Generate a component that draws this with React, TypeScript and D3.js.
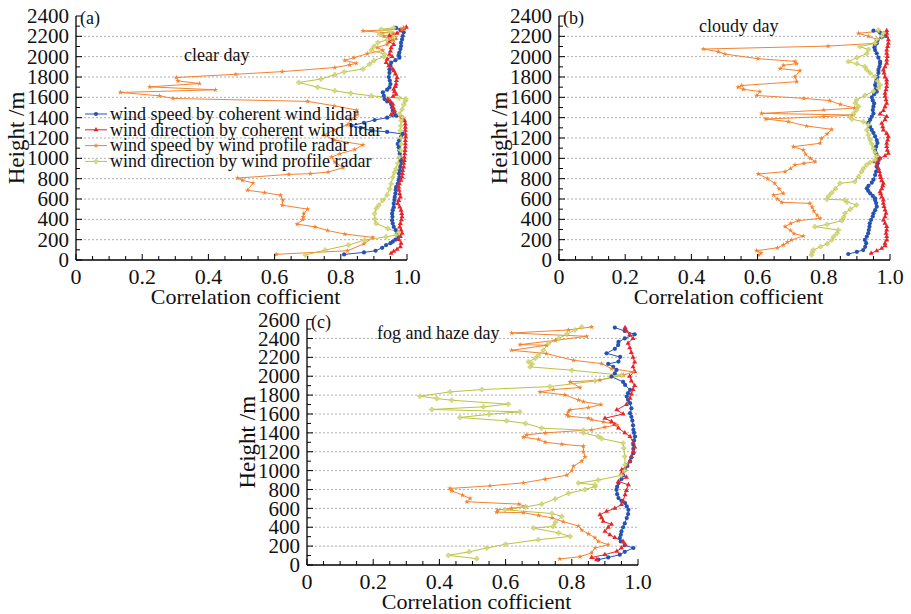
import React from "react";
import * as d3 from "d3";

// each point: [height (m), correlation coefficient]

// (a) clear day
const clearLidarSpeed: [number, number][] = [
  [55, 0.81], [75, 0.87], [91, 0.905], [120, 0.925], [147, 0.937], [165, 0.95], [180, 0.957], [200, 0.965],
  [228, 0.972], [260, 0.97], [294, 0.966], [325, 0.96], [359, 0.957], [390, 0.955], [425, 0.956], [457, 0.955],
  [490, 0.957], [520, 0.96], [555, 0.96], [590, 0.962], [620, 0.963], [655, 0.965], [690, 0.966], [718, 0.967],
  [750, 0.972], [785, 0.975], [816, 0.977], [850, 0.976], [880, 0.978], [915, 0.98], [950, 0.981], [979, 0.982],
  [1010, 0.98], [1045, 0.978], [1077, 0.977], [1110, 0.975], [1142, 0.972], [1175, 0.976], [1210, 0.982],
  [1240, 0.987], [1260, 0.94], [1273, 0.892], [1300, 0.86], [1322, 0.832], [1350, 0.87], [1377, 0.902],
  [1400, 0.94], [1419, 0.967], [1445, 0.962], [1468, 0.957], [1500, 0.955], [1534, 0.952], [1560, 0.94],
  [1583, 0.932], [1615, 0.93], [1648, 0.927], [1675, 0.94], [1697, 0.947], [1730, 0.95], [1765, 0.948],
  [1800, 0.945], [1840, 0.947], [1876, 0.947], [1910, 0.95], [1941, 0.952], [1965, 0.965], [1990, 0.977],
  [2015, 0.975], [2040, 0.977], [2075, 0.98], [2105, 0.982], [2137, 0.982], [2170, 0.985], [2203, 0.987],
  [2240, 0.99], [2265, 0.98], [2284, 0.967],
];
const clearLidarDir: [number, number][] = [
  [65, 0.952], [85, 0.96], [105, 0.97], [130, 0.98], [165, 0.982], [200, 0.975], [230, 0.98], [262, 0.985],
  [294, 0.982], [325, 0.978], [359, 0.98], [395, 0.983], [425, 0.985], [457, 0.984], [490, 0.982], [520, 0.978],
  [555, 0.972], [585, 0.975], [620, 0.98], [650, 0.978], [685, 0.976], [718, 0.975], [750, 0.977], [785, 0.982],
  [816, 0.985], [850, 0.986], [880, 0.987], [915, 0.99], [950, 0.99], [979, 0.992], [1010, 0.992], [1045, 0.993],
  [1077, 0.994], [1110, 0.995], [1142, 0.995], [1175, 0.995], [1210, 0.996], [1240, 0.995], [1275, 0.995],
  [1305, 0.995], [1338, 0.995], [1370, 0.993], [1400, 0.985], [1430, 0.952], [1450, 0.96], [1470, 0.962],
  [1500, 0.958], [1533, 0.957], [1560, 0.95], [1583, 0.942], [1610, 0.958], [1630, 0.967], [1655, 0.962],
  [1680, 0.96], [1705, 0.965], [1730, 0.967], [1765, 0.968], [1795, 0.97], [1830, 0.965], [1860, 0.96],
  [1876, 0.957], [1910, 0.945], [1941, 0.937], [1975, 0.94], [2000, 0.955], [2023, 0.947], [2055, 0.95],
  [2088, 0.952], [2120, 0.96], [2150, 0.945], [2180, 0.965], [2203, 0.947], [2230, 0.97], [2255, 0.982],
  [2275, 0.99], [2290, 0.998],
];
const clearRadarSpeed: [number, number][] = [
  [56, 0.605], [91, 0.82], [160, 0.87], [222, 0.897], [255, 0.812], [290, 0.76], [326, 0.722], [353, 0.668],
  [398, 0.685], [425, 0.687], [457, 0.688], [500, 0.7], [539, 0.623], [588, 0.625], [637, 0.618], [663, 0.57],
  [686, 0.518], [757, 0.535], [784, 0.503], [806, 0.488], [842, 0.643], [849, 0.708], [865, 0.762], [908, 0.807],
  [963, 0.782], [1012, 0.772], [1045, 0.797], [1087, 0.842], [1133, 0.867], [1180, 0.78], [1230, 0.75],
  [1280, 0.78], [1330, 0.82], [1380, 0.83], [1430, 0.85], [1475, 0.848], [1517, 0.78], [1560, 0.7],
  [1589, 0.293], [1615, 0.252], [1648, 0.134], [1674, 0.421], [1703, 0.223], [1736, 0.373], [1762, 0.308],
  [1795, 0.303], [1827, 0.483], [1853, 0.623], [1893, 0.782], [1919, 0.827], [1935, 0.847], [1964, 0.812],
  [1990, 0.84], [2030, 0.88], [2062, 0.927], [2090, 0.91], [2121, 0.94], [2160, 0.96], [2200, 0.93],
  [2230, 0.96], [2253, 0.867], [2270, 0.985], [2286, 0.99],
];
const clearRadarDir: [number, number][] = [
  [49, 0.693], [98, 0.753], [147, 0.823], [196, 0.872], [228, 0.937], [245, 0.967], [270, 0.975], [310, 0.942],
  [359, 0.907], [400, 0.903], [457, 0.902], [506, 0.907], [540, 0.915], [587, 0.927], [640, 0.94], [700, 0.948],
  [750, 0.952], [816, 0.957], [860, 0.962], [897, 0.967], [950, 0.972], [1012, 0.977], [1080, 0.98],
  [1142, 0.982], [1200, 0.982], [1273, 0.98], [1320, 0.981], [1371, 0.982], [1403, 0.987], [1436, 0.977],
  [1480, 0.985], [1530, 0.99], [1565, 0.995], [1583, 0.997], [1592, 0.977], [1615, 0.892], [1640, 0.83],
  [1664, 0.782], [1700, 0.73], [1746, 0.673], [1780, 0.74], [1822, 0.782], [1850, 0.81], [1878, 0.867],
  [1927, 0.887], [1960, 0.9], [2000, 0.93], [2025, 0.932], [2064, 0.892], [2100, 0.9], [2139, 0.912],
  [2165, 0.94], [2188, 0.962], [2221, 0.917], [2245, 0.95], [2269, 0.922], [2285, 0.96],
];

// (b) cloudy day
const cloudyLidarSpeed: [number, number][] = [
  [59, 0.874], [80, 0.9], [98, 0.919], [130, 0.925], [165, 0.928], [197, 0.924], [230, 0.93], [262, 0.934],
  [295, 0.936], [328, 0.938], [361, 0.939], [395, 0.943], [430, 0.948], [459, 0.95], [490, 0.955], [525, 0.96],
  [560, 0.958], [590, 0.955], [607, 0.955], [630, 0.948], [656, 0.94], [680, 0.934], [705, 0.93], [730, 0.935],
  [760, 0.945], [790, 0.95], [836, 0.955], [870, 0.958], [918, 0.96], [950, 0.963], [984, 0.965], [1020, 0.962],
  [1050, 0.958], [1082, 0.955], [1115, 0.958], [1150, 0.962], [1180, 0.96], [1215, 0.955], [1250, 0.95],
  [1279, 0.945], [1310, 0.94], [1351, 0.935], [1380, 0.94], [1410, 0.945], [1440, 0.95], [1475, 0.948],
  [1508, 0.95], [1540, 0.952], [1570, 0.948], [1600, 0.945], [1630, 0.952], [1656, 0.96], [1690, 0.958],
  [1721, 0.955], [1750, 0.958], [1771, 0.96], [1800, 0.962], [1840, 0.965], [1869, 0.965], [1900, 0.968],
  [1930, 0.97], [1951, 0.97], [1990, 0.965], [2033, 0.96], [2065, 0.955], [2092, 0.953], [2115, 0.955],
  [2131, 0.96], [2160, 0.962], [2190, 0.975], [2215, 0.985], [2235, 0.97], [2256, 0.95],
];
const cloudyLidarDir: [number, number][] = [
  [66, 0.943], [90, 0.96], [115, 0.975], [140, 0.985], [164, 0.985], [197, 0.99], [230, 0.99], [262, 0.988],
  [295, 0.99], [328, 0.99], [360, 0.985], [393, 0.98], [425, 0.985], [459, 0.988], [492, 0.985], [525, 0.982],
  [557, 0.98], [590, 0.98], [620, 0.975], [650, 0.972], [672, 0.97], [700, 0.975], [730, 0.978], [754, 0.98],
  [780, 0.975], [810, 0.972], [836, 0.97], [870, 0.968], [900, 0.965], [935, 0.96], [967, 0.955], [985, 0.965],
  [1000, 0.97], [1025, 0.985], [1049, 0.995], [1080, 0.992], [1115, 0.99], [1148, 0.99], [1180, 0.993],
  [1213, 0.995], [1245, 0.99], [1279, 0.98], [1310, 0.978], [1344, 0.975], [1380, 0.985], [1410, 0.99],
  [1436, 0.97], [1470, 0.98], [1508, 0.985], [1541, 0.99], [1575, 0.988], [1610, 0.985], [1640, 0.985],
  [1675, 0.988], [1705, 0.99], [1740, 0.99], [1771, 0.99], [1800, 0.985], [1840, 0.982], [1869, 0.98],
  [1900, 0.985], [1935, 0.99], [1967, 0.99], [2000, 0.992], [2033, 0.99], [2065, 0.99], [2100, 0.993],
  [2131, 0.995], [2165, 0.995], [2197, 0.99], [2230, 0.99], [2256, 0.99],
];
const cloudyRadarSpeed: [number, number][] = [
  [49, 0.604], [70, 0.61], [92, 0.597], [120, 0.66], [148, 0.678], [175, 0.69], [197, 0.703], [236, 0.738],
  [260, 0.71], [290, 0.7], [328, 0.683], [360, 0.7], [387, 0.723], [410, 0.789], [440, 0.78], [480, 0.77],
  [520, 0.765], [557, 0.758], [567, 0.673], [600, 0.66], [639, 0.648], [656, 0.678], [700, 0.665],
  [754, 0.652], [800, 0.63], [846, 0.602], [869, 0.683], [900, 0.7], [935, 0.713], [950, 0.74], [967, 0.774],
  [1000, 0.76], [1040, 0.745], [1082, 0.738], [1115, 0.708], [1148, 0.789], [1197, 0.793], [1240, 0.81],
  [1285, 0.824], [1318, 0.748], [1361, 0.693], [1387, 0.625], [1410, 0.8], [1426, 0.889], [1442, 0.612],
  [1475, 0.8], [1495, 0.893], [1530, 0.85], [1568, 0.818], [1590, 0.74], [1618, 0.597], [1657, 0.607],
  [1679, 0.557], [1700, 0.541], [1716, 0.552], [1754, 0.718], [1803, 0.713], [1862, 0.728], [1882, 0.668],
  [1915, 0.678], [1931, 0.718], [1954, 0.713], [1980, 0.601], [2026, 0.501], [2049, 0.481], [2075, 0.436],
  [2104, 0.813], [2131, 0.955], [2170, 0.96], [2200, 0.935], [2229, 0.905], [2250, 0.965],
];
const cloudyRadarDir: [number, number][] = [
  [49, 0.763], [75, 0.765], [98, 0.768], [130, 0.79], [160, 0.81], [197, 0.824], [230, 0.83], [262, 0.84],
  [295, 0.844], [328, 0.773], [350, 0.81], [387, 0.854], [420, 0.86], [459, 0.864], [500, 0.88], [541, 0.899],
  [570, 0.87], [590, 0.864], [597, 0.809], [630, 0.815], [662, 0.824], [700, 0.835], [754, 0.849], [771, 0.894],
  [820, 0.905], [869, 0.914], [900, 0.92], [935, 0.929], [960, 0.94], [984, 0.955], [1020, 0.96], [1060, 0.955],
  [1098, 0.95], [1140, 0.945], [1180, 0.94], [1230, 0.935], [1279, 0.93], [1330, 0.935], [1360, 0.92],
  [1385, 0.885], [1410, 0.879], [1440, 0.89], [1475, 0.899], [1510, 0.905], [1545, 0.895], [1574, 0.899],
  [1620, 0.925], [1660, 0.95], [1690, 0.965], [1721, 0.97], [1760, 0.962], [1803, 0.955], [1840, 0.94],
  [1870, 0.93], [1902, 0.924], [1930, 0.9], [1951, 0.874], [1990, 0.9], [2030, 0.93], [2070, 0.935],
  [2099, 0.909], [2131, 0.955], [2170, 0.96], [2200, 0.975], [2230, 0.98], [2263, 0.965],
];

// (c) fog and haze day
const fogLidarSpeed: [number, number][] = [
  [56, 0.88], [80, 0.91], [109, 0.945], [140, 0.96], [180, 0.986], [210, 0.96], [250, 0.948], [286, 0.945],
  [320, 0.948], [356, 0.95], [400, 0.955], [440, 0.96], [497, 0.966], [540, 0.97], [585, 0.971], [620, 0.966],
  [656, 0.961], [680, 0.95], [709, 0.941], [750, 0.937], [797, 0.935], [830, 0.937], [868, 0.941], [910, 0.95],
  [950, 0.955], [1009, 0.961], [1050, 0.968], [1097, 0.976], [1140, 0.98], [1185, 0.986], [1230, 0.986],
  [1273, 0.986], [1320, 0.988], [1361, 0.991], [1400, 0.988], [1432, 0.986], [1480, 0.985], [1530, 0.983],
  [1570, 0.98], [1608, 0.976], [1660, 0.98], [1714, 0.976], [1750, 0.97], [1785, 0.966], [1820, 0.97],
  [1855, 0.976], [1908, 0.961], [1940, 0.955], [1996, 0.92], [2030, 0.93], [2067, 0.935], [2100, 0.925],
  [2130, 0.91], [2155, 0.941], [2204, 0.946], [2243, 0.905], [2290, 0.93], [2330, 0.94], [2363, 0.941],
  [2400, 0.96], [2444, 0.99], [2480, 0.96], [2515, 0.93],
];
const fogLidarDir: [number, number][] = [
  [56, 0.875], [80, 0.86], [110, 0.9], [145, 0.936], [180, 0.95], [215, 0.961], [250, 0.955], [290, 0.93],
  [320, 0.915], [356, 0.9], [400, 0.91], [430, 0.92], [462, 0.895], [500, 0.89], [533, 0.885], [568, 0.905],
  [600, 0.93], [640, 0.95], [680, 0.955], [744, 0.961], [790, 0.965], [850, 0.971], [885, 0.941], [930, 0.965],
  [970, 0.95], [1009, 0.951], [1050, 0.965], [1100, 0.975], [1150, 0.98], [1203, 0.986], [1250, 0.99],
  [1300, 0.985], [1361, 0.976], [1400, 0.96], [1450, 0.941], [1490, 0.93], [1520, 0.92], [1555, 0.9],
  [1600, 0.955], [1644, 0.936], [1700, 0.965], [1767, 0.976], [1810, 0.98], [1860, 0.985], [1900, 0.99],
  [1950, 0.98], [2000, 0.975], [2050, 0.99], [2100, 0.985], [2150, 0.99], [2200, 0.985], [2250, 0.98],
  [2300, 0.975], [2350, 0.97], [2400, 0.985], [2440, 0.975], [2480, 0.965], [2515, 0.961],
];
const fogRadarSpeed: [number, number][] = [
  [64, 0.764], [88, 0.825], [130, 0.86], [180, 0.87], [215, 0.91], [250, 0.88], [290, 0.87], [330, 0.85],
  [370, 0.83], [413, 0.82], [459, 0.774], [500, 0.74], [525, 0.7], [554, 0.654], [560, 0.573], [582, 0.576],
  [600, 0.618], [620, 0.66], [645, 0.64], [670, 0.483], [705, 0.493], [740, 0.47], [786, 0.437], [811, 0.432],
  [839, 0.553], [871, 0.654], [910, 0.72], [952, 0.785], [1000, 0.8], [1048, 0.805], [1100, 0.83],
  [1146, 0.84], [1200, 0.835], [1259, 0.835], [1280, 0.77], [1301, 0.719], [1330, 0.7], [1354, 0.654],
  [1379, 0.664], [1400, 0.72], [1432, 0.86], [1460, 0.9], [1485, 0.936], [1517, 0.895], [1540, 0.86],
  [1555, 0.85], [1577, 0.79], [1591, 0.785], [1626, 0.79], [1644, 0.795], [1668, 0.85], [1700, 0.888],
  [1730, 0.835], [1749, 0.82], [1802, 0.779], [1834, 0.704], [1859, 0.744], [1880, 0.825], [1940, 0.795],
  [1958, 0.885], [2014, 0.956], [2046, 0.986], [2080, 0.92], [2134, 0.89], [2169, 0.805], [2240, 0.723],
  [2275, 0.618], [2328, 0.724], [2335, 0.644], [2380, 0.75], [2423, 0.845], [2458, 0.618], [2490, 0.79],
  [2522, 0.86],
];
const fogRadarDir: [number, number][] = [
  [67, 0.513], [102, 0.427], [140, 0.49], [180, 0.543], [220, 0.6], [268, 0.699], [303, 0.795], [340, 0.76],
  [391, 0.684], [409, 0.744], [450, 0.75], [515, 0.77], [545, 0.74], [585, 0.598], [615, 0.66], [645, 0.709],
  [700, 0.75], [760, 0.79], [800, 0.84], [830, 0.87], [850, 0.87], [868, 0.82], [900, 0.88], [950, 0.95],
  [1000, 0.96], [1062, 0.961], [1150, 0.96], [1238, 0.957], [1291, 0.955], [1340, 0.89], [1361, 0.88],
  [1400, 0.835], [1429, 0.835], [1450, 0.709], [1500, 0.66], [1527, 0.603], [1563, 0.462], [1596, 0.55],
  [1623, 0.643], [1648, 0.377], [1676, 0.533], [1704, 0.608], [1746, 0.437], [1764, 0.392], [1788, 0.341],
  [1834, 0.432], [1859, 0.528], [1890, 0.734], [1950, 0.87], [2011, 0.95], [2064, 0.8], [2099, 0.674],
  [2130, 0.68], [2152, 0.669], [2190, 0.69], [2222, 0.699], [2275, 0.714], [2346, 0.729], [2400, 0.76],
  [2444, 0.785], [2490, 0.81], [2522, 0.83],
];

const seriesNames = [
  "wind speed by coherent wind lidar",
  "wind direction by coherent wind lidar",
  "wind speed by wind profile radar",
  "wind direction by wind profile radar",
];

const styles = [
  { color: "#2553b3", fill: "#2553b3", symbol: d3.symbolCircle, size: 14 },
  { color: "#e8242a", fill: "#e8242a", symbol: d3.symbolTriangle, size: 11 },
  { color: "#f5822f", fill: "#f5822f", symbol: d3.symbolStar, size: 9 },
  { color: "#bcc33c", fill: "#d8dc8c", symbol: d3.symbolCross, size: 11 },
];

const FONT = "'Liberation Serif', 'Times New Roman', serif";

type PanelProps = {
  x0: number; x1: number; yBottom: number; yTop: number; hMax: number;
  tag: string; note: string; noteX: number; noteY: number;
  data: [number, number][][];
  legend?: boolean;
};

function Panel({ x0, x1, yBottom, yTop, hMax, tag, note, noteX, noteY, data, legend }: PanelProps) {
  const x = d3.scaleLinear().domain([0, 1]).range([x0, x1]);
  const y = d3.scaleLinear().domain([0, hMax]).range([yBottom, yTop]);
  const line = d3.line<[number, number]>().x((d) => x(d[1])).y((d) => y(d[0]));

  const xMinor = d3.range(0, 1.0001, 0.05);
  const xMajor = [0, 0.2, 0.4, 0.6, 0.8, 1.0];
  const yMinor = d3.range(0, hMax + 1, 100);
  const yMajor = d3.range(0, hMax + 1, 200);
  const grid = yMajor.filter((h) => h > 0 && h < hMax);

  return (
    <g fontFamily={FONT} fill="#111">
      {grid.map((h) => (
        <line key={"g" + h} x1={x0} x2={x1} y1={y(h)} y2={y(h)} stroke="#9a9a9a" strokeWidth={0.8} strokeDasharray="2,2" />
      ))}
      {data.map((s, i) => (
        <path key={"p" + i} d={line(s) || ""} fill="none" stroke={styles[i].color} strokeWidth={1} />
      ))}
      {data.map((s, i) =>
        s.map((d, j) => (
          <path
            key={"m" + i + "-" + j}
            transform={`translate(${x(d[1])},${y(d[0])})`}
            d={d3.symbol().type(styles[i].symbol).size(styles[i].size)() || ""}
            fill={styles[i].fill}
            stroke={i === 3 ? styles[i].color : "none"}
            strokeWidth={0.4}
          />
        ))
      )}
      {/* axes */}
      <line x1={x0} x2={x1} y1={yBottom} y2={yBottom} stroke="#000" strokeWidth={1.3} />
      <line x1={x0} x2={x0} y1={yBottom} y2={yTop} stroke="#000" strokeWidth={1.3} />
      {xMinor.map((v) => {
        const major = xMajor.some((m) => Math.abs(m - v) < 1e-6);
        return <line key={"xt" + v} x1={x(v)} x2={x(v)} y1={yBottom} y2={yBottom - (major ? 6 : 4)} stroke="#000" strokeWidth={1} />;
      })}
      {yMinor.map((h) => {
        const major = h % 200 === 0;
        return <line key={"yt" + h} x1={x0} x2={x0 + (major ? 6 : 4)} y1={y(h)} y2={y(h)} stroke="#000" strokeWidth={1} />;
      })}
      {xMajor.map((v) => (
        <text key={"xl" + v} x={x(v)} y={yBottom + 24} textAnchor="middle" fontSize={22}>
          {v === 0 ? "0" : v.toFixed(1)}
        </text>
      ))}
      {yMajor.map((h) => (
        <text key={"yl" + h} x={x0 - 7} y={y(h)} dy="0.34em" textAnchor="end" fontSize={21}>
          {h}
        </text>
      ))}
      <text x={(x0 + x1) / 2 + 4} y={yBottom + 44} textAnchor="middle" fontSize={22}>
        Correlation cofficient
      </text>
      <text
        transform={`translate(${x0 - 60},${(yBottom + yTop) / 2}) rotate(-90)`}
        textAnchor="middle"
        dy="0.34em"
        fontSize={23}
      >
        Height /m
      </text>
      <text x={x0 + 4} y={yTop + 8} fontSize={18}>{tag}</text>
      <text x={noteX} y={noteY} fontSize={18}>{note}</text>
      {legend &&
        seriesNames.map((name, i) => {
          const ly = 114 + i * 15.8;
          return (
            <g key={"lg" + i}>
              <line x1={x0 + 9} x2={x0 + 31} y1={ly} y2={ly} stroke={styles[i].color} strokeWidth={1} />
              <path
                transform={`translate(${x0 + 20},${ly})`}
                d={d3.symbol().type(styles[i].symbol).size(styles[i].size)() || ""}
                fill={styles[i].fill}
                stroke={i === 3 ? styles[i].color : "none"}
                strokeWidth={0.4}
              />
              <text x={x0 + 34} y={ly} dy="0.32em" fontSize={18}>{name}</text>
            </g>
          );
        })}
    </g>
  );
}

export default function App() {
  return (
    <svg width={911} height={614} style={{ position: "absolute", left: 0, top: 0, background: "#fff" }}>
      <rect width={911} height={614} fill="#fff" />
      <Panel
        x0={76} x1={407} yBottom={260} yTop={16} hMax={2400}
        tag="(a)" note="clear day" noteX={184} noteY={61}
        data={[clearLidarSpeed, clearLidarDir, clearRadarSpeed, clearRadarDir]}
        legend
      />
      <Panel
        x0={559} x1={890} yBottom={260} yTop={16} hMax={2400}
        tag="(b)" note="cloudy day" noteX={699} noteY={32}
        data={[cloudyLidarSpeed, cloudyLidarDir, cloudyRadarSpeed, cloudyRadarDir]}
      />
      <Panel
        x0={307} x1={638} yBottom={565} yTop={319.6} hMax={2600}
        tag="(c)" note="fog and haze day" noteX={377} noteY={339}
        data={[fogLidarSpeed, fogLidarDir, fogRadarSpeed, fogRadarDir]}
      />
    </svg>
  );
}
